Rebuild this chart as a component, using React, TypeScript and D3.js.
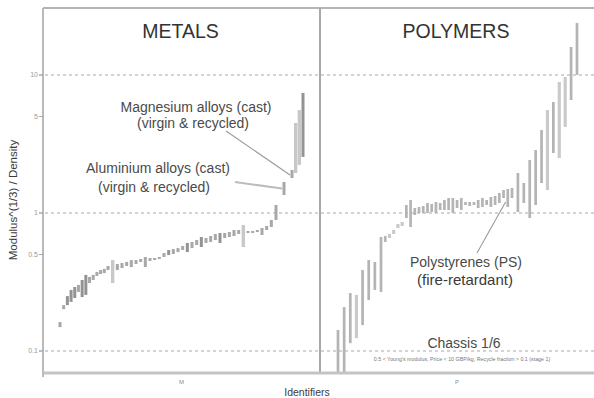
import React from "react";
import * as d3 from "d3";

// Material property chart: Modulus^(1/3) / Density for metals and polymers,
// each record drawn as a vertical range bar ordered by identifier.

const W = 594;
const H = 398;

const yTickValues = [10, 5, 1, 0.5, 0.1];
const yTickLabels = ["10", "5", "1", "0.5", "0.1"];
const gridValues = [10, 1, 0.1];

const groupTitles = ["METALS", "POLYMERS"];
const groupTickLabels = ["M", "P"];

// [low, high] of Modulus^(1/3) / Density for each metal record
const metalRanges: [number, number][] = [
  [0.149, 0.162], [0.201, 0.215], [0.215, 0.25], [0.227, 0.277], [0.242, 0.291],
  [0.268, 0.301], [0.246, 0.327], [0.255, 0.356], [0.311, 0.344], [0.327, 0.356],
  [0.35, 0.374], [0.361, 0.386], [0.367, 0.393], [0.386, 0.413], [0.311, 0.456],
  [0.386, 0.427], [0.399, 0.434], [0.413, 0.442], [0.406, 0.456], [0.427, 0.456],
  [0.442, 0.464], [0.406, 0.48], [0.449, 0.472], [0.456, 0.472], [0.464, 0.48],
  [0.48, 0.513], [0.496, 0.539], [0.505, 0.548], [0.521, 0.557], [0.539, 0.577],
  [0.521, 0.607], [0.557, 0.617], [0.586, 0.637], [0.567, 0.67], [0.607, 0.659],
  [0.617, 0.681], [0.637, 0.705], [0.607, 0.716], [0.659, 0.716], [0.67, 0.728],
  [0.681, 0.753], [0.705, 0.753], [0.567, 0.819], [0.716, 0.741], [0.716, 0.741],
  [0.728, 0.753], [0.693, 0.778], [0.753, 0.805], [0.792, 0.89], [0.89, 1.143],
  [1.35, 1.678], [1.793, 2.05], [1.95, 4.49], [2.23, 5.57], [2.55, 7.41],
];

// [low, high] for each polymer record
const polymerRanges: [number, number][] = [
  [0.0617, 0.142], [0.0617, 0.208], [0.114, 0.263], [0.124, 0.255], [0.154, 0.386],
  [0.234, 0.456], [0.277, 0.442], [0.268, 0.67], [0.617, 0.681], [0.659, 0.705],
  [0.705, 0.753], [0.778, 0.832], [0.805, 0.861], [0.92, 1.143], [0.792, 1.242],
  [0.967, 1.087], [1.0, 1.105], [1.0, 1.124], [1.0, 1.182], [1.017, 1.162],
  [1.0, 1.201], [1.051, 1.182], [1.051, 1.242], [1.051, 1.284], [1.0, 1.284],
  [1.087, 1.242], [1.051, 1.284], [1.143, 1.201], [1.124, 1.201], [1.143, 1.201],
  [1.087, 1.242], [1.105, 1.284], [1.143, 1.242], [1.105, 1.306], [1.143, 1.328],
  [1.182, 1.396], [1.284, 1.468], [1.105, 1.492], [1.284, 1.517], [1.017, 1.95],
  [1.182, 1.649], [0.92, 2.42], [1.143, 2.86], [1.649, 3.99], [1.468, 5.57],
  [2.72, 6.37], [2.5, 8.9], [4.2, 9.67], [6.59, 15.96], [10.0, 23.8],
];

// labelled records (index into the range arrays)
const aluminiumCastIndex = 50;
const magnesiumCastIndex = 51;
const polystyreneFrIndex = 36;

const magnesiumLabel = ["Magnesium alloys (cast)", "(virgin & recycled)"];
const aluminiumLabel = ["Aluminium alloys (cast)", "(virgin & recycled)"];
const polystyreneLabel = ["Polystyrenes (PS)", "(fire-retardant)"];
const stageLabel = "Chassis 1/6";
const stageNote =
  "0.5 < Young's modulus, Price < 10 GBP/kg, Recycle fraction > 0.1 (stage 1)";
const xAxisTitle = "Identifiers";
const yAxisTitle = "Modulus^(1/3) / Density";

const FONT = "'Liberation Sans', Arial, sans-serif";

export default function App() {
  const left = 43;
  const right = W;
  const top = 8;
  const bottom = 373;
  const divider = 320;

  const y = d3.scaleLog().domain([0.1, 10]).range([351, 75]);

  // identifier positions, piecewise so dense runs sit closer together
  const xM = d3
    .scaleLinear()
    .domain([0, 13, 49, 51, metalRanges.length - 1])
    .range([60, 108, 276, 292, 303]);
  const xP = d3
    .scaleLinear()
    .domain([0, 7, 38, polymerRanges.length - 1])
    .range([338, 381, 512, 577]);

  const metalLight = new Set([14, 42, 52, 53]);
  const metalDark = new Set([2, 3, 4, 6, 7, 26, 30, 33, 37, 54]);
  const polyLight = new Set([3, 9, 10, 11, 12, 44, 46, 47]);

  const bar = (
    key: string,
    cx: number,
    r: [number, number],
    fill: string,
    w: number
  ) => {
    const y0 = y(r[1]);
    const y1 = y(r[0]);
    const h = Math.max(2, y1 - y0);
    return (
      <rect
        key={key}
        x={cx - w / 2}
        y={y0 - (h - (y1 - y0)) / 2}
        width={w}
        height={h}
        fill={fill}
      />
    );
  };

  const mgX = xM(magnesiumCastIndex);
  const mgR = metalRanges[magnesiumCastIndex];
  const alX = xM(aluminiumCastIndex);
  const alR = metalRanges[aluminiumCastIndex];
  const psX = xP(polystyreneFrIndex);
  const psR = polymerRanges[polystyreneFrIndex];

  return (
    <svg
      width={W}
      height={H}
      style={{ position: "absolute", left: 0, top: 0, background: "#fff" }}
      fontFamily={FONT}
    >
      <defs>
        <clipPath id="plot">
          <rect x={left} y={top} width={right - left} height={bottom - top - 1} />
        </clipPath>
      </defs>

      {/* dashed reference lines */}
      {gridValues.map((v) => (
        <line
          key={"g" + v}
          x1={39}
          x2={right}
          y1={y(v)}
          y2={y(v)}
          stroke="#a8a8a8"
          strokeWidth={1.2}
          strokeDasharray="3 3"
        />
      ))}

      {/* range bars */}
      <g clipPath="url(#plot)">
        {metalRanges.map((r, i) =>
          bar(
            "m" + i,
            xM(i),
            r,
            metalLight.has(i) ? "#c8c8c8" : metalDark.has(i) ? "#939393" : "#a8a8a8",
            metalLight.has(i) ? 3.4 : 3
          )
        )}
        {polymerRanges.map((r, i) =>
          bar(
            "p" + i,
            xP(i),
            r,
            polyLight.has(i) ? "#cacaca" : "#b4b4b4",
            polyLight.has(i) ? 3.2 : 2.7
          )
        )}
      </g>

      {/* frame */}
      <line x1={left} x2={right} y1={top} y2={top} stroke="#b4b4b4" strokeWidth={2} />
      <line x1={left} x2={left} y1={top} y2={bottom + 4} stroke="#a8a8a8" strokeWidth={1.6} />
      <line x1={divider} x2={divider} y1={top} y2={bottom} stroke="#a8a8a8" strokeWidth={2} />
      <line x1={left} x2={right} y1={bottom} y2={bottom} stroke="#c4c4c4" strokeWidth={3} />

      {/* y ticks */}
      {yTickValues.map((v, i) => (
        <g key={"t" + v}>
          <line x1={39} x2={left} y1={y(v)} y2={y(v)} stroke="#a8a8a8" strokeWidth={1} />
          <text
            x={38}
            y={y(v)}
            dy="0.35em"
            textAnchor="end"
            fontSize={7}
            fill="#9a9a9a"
          >
            {yTickLabels[i]}
          </text>
        </g>
      ))}

      {/* y axis title */}
      <text
        transform={`translate(17,200) rotate(-90)`}
        textAnchor="middle"
        fontSize={11.5}
        fill="#3c3c3c"
      >
        {yAxisTitle}
      </text>

      {/* group ticks and titles */}
      {[(left + divider) / 2, (divider + right) / 2].map((cx, i) => (
        <g key={"grp" + i}>
          <text x={cx} y={384} textAnchor="middle" fontSize={6} fill="#8a8a8a">
            {groupTickLabels[i]}
          </text>
          <text x={cx - 1} y={38} textAnchor="middle" fontSize={19.5} fill="#333">
            {groupTitles[i]}
          </text>
        </g>
      ))}

      <text x={307} y={396} textAnchor="middle" fontSize={10.5} fill="#3c3c3c">
        {xAxisTitle}
      </text>

      {/* annotations */}
      <line
        x1={226}
        y1={131}
        x2={mgX - 2}
        y2={y(Math.sqrt(mgR[0] * mgR[1])) + 1}
        stroke="#9a9a9a"
        strokeWidth={1.1}
      />
      <line
        x1={235}
        y1={182}
        x2={alX - 2}
        y2={y(Math.sqrt(alR[0] * alR[1]))}
        stroke="#bcbcbc"
        strokeWidth={2}
      />
      <line
        x1={477}
        y1={253}
        x2={psX + 2}
        y2={y(psR[0]) + 4}
        stroke="#9a9a9a"
        strokeWidth={1.1}
      />

      <g fontSize={14} fill="#4a4a4a" textAnchor="middle">
        <text x={196} y={112}>{magnesiumLabel[0]}</text>
        <text x={193} y={128}>{magnesiumLabel[1]}</text>
        <text x={158} y={173}>{aluminiumLabel[0]}</text>
        <text x={154} y={192}>{aluminiumLabel[1]}</text>
        <text x={466} y={267}>{polystyreneLabel[0]}</text>
        <text x={465} y={285} fontSize={15} fill="#3a3a3a">{polystyreneLabel[1]}</text>
        <text x={464} y={348}>{stageLabel}</text>
      </g>
      <text x={462} y={361} textAnchor="middle" fontSize={5.3} fill="#777">
        {stageNote}
      </text>
    </svg>
  );
}
